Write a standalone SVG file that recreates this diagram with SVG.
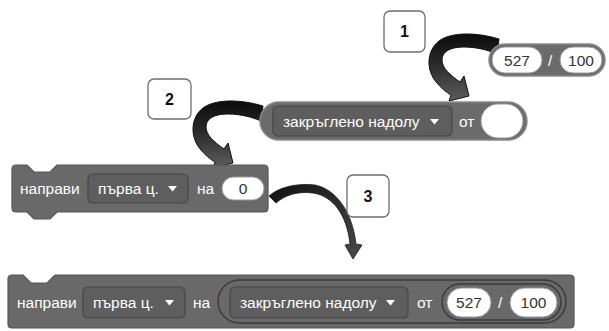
<svg xmlns="http://www.w3.org/2000/svg" width="609" height="331" viewBox="0 0 609 331">
  <defs>
    <style>
      .blk { fill: #696969; stroke: #565656; stroke-width: 1.2; }
      .rep { fill: #6b6b6b; stroke: #8a8a8a; stroke-width: 1.5; }
      .slot { fill: #696969; stroke: #3a3a3a; stroke-width: 1.4; }
      .dd { fill: #5e5e5e; stroke: #474747; stroke-width: 1.2; }
      .oval { fill: #ffffff; stroke: #9a9a9a; stroke-width: 1; }
      .lbl { font-family: "Liberation Sans", Arial, sans-serif; font-size: 15.5px; fill: #ffffff; }
      .num { font-family: "Liberation Sans", Arial, sans-serif; font-size: 15.5px; fill: #333333; text-anchor: middle; }
      .tag { fill: #ffffff; stroke: #6e6e6e; stroke-width: 1.3; }
      .tagtxt { font-family: "Liberation Sans", Arial, sans-serif; font-size: 16px; font-weight: bold; fill: #111111; text-anchor: middle; }
      .tri { fill: #ffffff; }
    </style>
    <linearGradient id="bandFill" x1="0" y1="0" x2="0" y2="1">
      <stop offset="0" stop-color="#0c0c0c"/>
      <stop offset="0.45" stop-color="#2a2a2a"/>
      <stop offset="1" stop-color="#5e5e5e"/>
    </linearGradient>
    <linearGradient id="thinFill" x1="0" y1="0" x2="1" y2="1">
      <stop offset="0" stop-color="#111111"/>
      <stop offset="1" stop-color="#4a4a4a"/>
    </linearGradient>
    <!-- thick curved arrow: tail at right, loops over the top and down to a head -->
    <path id="bigArrow" d="M 263,106 C 240,99 215,99 203,108 C 190,118 190,138 201,150 C 205,155 210,159 215,162 L 213,168 L 233,163 L 228,143 L 224,149 C 214,142 206,135 206,127 C 206,118 215,114 228,114 C 240,114 252,117 261,121 Z"/>
  </defs>

  <!-- connectors -->
  <g id="connectors">
    <use href="#bigArrow" transform="translate(236,-67)" fill="url(#bandFill)" stroke="#111" stroke-width="1"/>
    <use href="#bigArrow" fill="url(#bandFill)" stroke="#111" stroke-width="1"/>
    <path d="M 269,196 C 280,186 300,183 315,185 C 335,189 352,210 356,244 L 362,245 L 353,259 L 345,245 L 350,244 C 347,215 333,196 313,193 C 298,191 285,195 276,203 Z" fill="url(#thinFill)" stroke="#1a1a1a" stroke-width="0.8"/>
  </g>

  <!-- step labels -->
  <g id="tag1">
    <rect class="tag" x="384" y="11" width="41" height="41" rx="6"/>
    <text class="tagtxt" x="404.5" y="37">1</text>
  </g>
  <g id="tag2">
    <rect class="tag" x="148" y="79" width="43" height="40" rx="6"/>
    <text class="tagtxt" x="169.5" y="105">2</text>
  </g>
  <g id="tag3">
    <rect class="tag" x="347" y="175" width="42" height="42" rx="6"/>
    <text class="tagtxt" x="368" y="202">3</text>
  </g>

  <!-- division reporter -->
  <g id="divide">
    <rect class="rep" x="489" y="44" width="116" height="32" rx="16"/>
    <rect class="oval" x="492" y="47" width="50" height="26" rx="13"/>
    <text class="num" x="517" y="65.5">527</text>
    <text class="lbl" x="548" y="65.5">/</text>
    <rect class="oval" x="560" y="47" width="42" height="26" rx="13"/>
    <text class="num" x="581" y="65.5">100</text>
  </g>

  <!-- floor reporter with empty slot -->
  <g id="floor">
    <rect class="rep" x="260" y="102" width="267" height="38" rx="19"/>
    <rect class="dd" x="273" y="106" width="179" height="30" rx="5"/>
    <text class="lbl" x="283" y="126.5">закръглено надолу</text>
    <path class="tri" d="M 430,119 L 439,119 L 434.5,124.5 Z"/>
    <text class="lbl" x="459" y="126.5">от</text>
    <rect class="oval" x="481" y="104" width="42" height="34" rx="17"/>
  </g>

  <!-- set-variable command with value 0 -->
  <g id="setZero">
    <path class="blk" d="M 12,169 Q 12,165 16,165 H 27 L 34,172 H 50 L 57,165 H 264 Q 268,165 268,169 V 208 Q 268,212 264,212 H 57 L 50,219 H 34 L 27,212 H 16 Q 12,212 12,208 Z"/>
    <text class="lbl" x="20" y="194">направи</text>
    <rect class="dd" x="88" y="174" width="100" height="29" rx="5"/>
    <text class="lbl" x="98" y="194">първа ц.</text>
    <path class="tri" d="M 168,186 L 177,186 L 172.5,191.5 Z"/>
    <text class="lbl" x="197" y="194">на</text>
    <rect class="oval" x="222" y="177" width="42" height="23" rx="11.5"/>
    <text class="num" x="243" y="194">0</text>
  </g>

  <!-- assembled command -->
  <g id="setFloor">
    <path class="blk" d="M 8,279 Q 8,275 12,275 H 23 L 31,283 H 47 L 55,275 H 570 Q 574,275 574,279 V 324 Q 574,328 570,328 H 12 Q 8,328 8,324 Z"/>
    <text class="lbl" x="17" y="308">направи</text>
    <rect class="dd" x="83" y="287" width="102" height="31" rx="5"/>
    <text class="lbl" x="93" y="308">първа ц.</text>
    <path class="tri" d="M 165,300 L 174,300 L 169.5,305.5 Z"/>
    <text class="lbl" x="193" y="308">на</text>
    <rect class="slot" x="218" y="280" width="348" height="43" rx="21.5"/>
    <rect class="dd" x="230" y="287" width="178" height="31" rx="5"/>
    <text class="lbl" x="240" y="308">закръглено надолу</text>
    <path class="tri" d="M 386,300 L 395,300 L 390.5,305.5 Z"/>
    <text class="lbl" x="417" y="308">от</text>
    <rect class="slot" x="442" y="284" width="119" height="36" rx="18"/>
    <rect class="oval" x="447" y="288" width="44" height="29" rx="14.5"/>
    <text class="num" x="469" y="308">527</text>
    <text class="lbl" x="498" y="308">/</text>
    <rect class="oval" x="510" y="288" width="47" height="29" rx="14.5"/>
    <text class="num" x="533.5" y="308">100</text>
  </g>
</svg>
